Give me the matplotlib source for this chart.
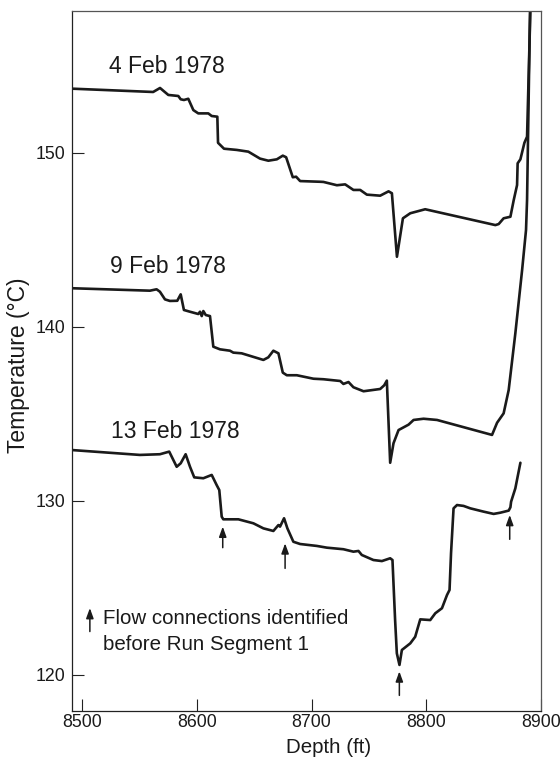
import numpy as np
import matplotlib
matplotlib.use('Agg')
import matplotlib.pyplot as plt

plt.rcParams['font.family'] = ['Liberation Sans', 'DejaVu Sans']

# temperature logs, depth (ft) vs temperature (degC)
d_feb4 = [8491.5, 8562, 8568, 8575.2, 8583.9, 8586, 8588.8, 8592.6, 8597, 8601.3,
          8610, 8613, 8617.9, 8618.5, 8623.7, 8634.8, 8644.9, 8655.1, 8662.3, 8669.7,
          8674.9, 8677.8, 8683.6, 8686.5, 8690, 8707.4, 8710.3, 8722, 8729.2, 8736.4,
          8742.3, 8748.1, 8759.7, 8767, 8769.9, 8774.3, 8779.5, 8785.9, 8798.9, 8860,
          8862.9, 8867.2, 8873.1, 8876, 8878.9, 8879.4, 8881.8, 8885.3, 8887.6, 8891]
t_feb4 = [153.68, 153.49, 153.72, 153.32, 153.26, 153.07, 153.03, 153.1, 152.45, 152.26,
          152.26, 152.11, 152.07, 150.57, 150.23, 150.16, 150.06, 149.66, 149.54, 149.62,
          149.83, 149.74, 148.59, 148.62, 148.37, 148.33, 148.32, 148.13, 148.18, 147.86,
          147.86, 147.59, 147.53, 147.78, 147.67, 144.02, 146.23, 146.52, 146.75, 145.84,
          145.9, 146.23, 146.32, 147.28, 148.14, 149.39, 149.62, 150.57, 150.92, 159.5]

d_feb9 = [8491.5, 8559.2, 8565, 8567.9, 8572.3, 8576.6, 8583, 8586, 8588.8, 8594.1,
          8601.3, 8602.8, 8604.3, 8605.7, 8607.8, 8611.5, 8614.4, 8620.2, 8628.9, 8631.8,
          8639.1, 8658, 8662.3, 8666.7, 8671.1, 8674.9, 8678.4, 8687.1, 8701.6, 8710.3,
          8724.9, 8727.7, 8732.1, 8736.4, 8745.2, 8759.7, 8763.2, 8765.5, 8768.4, 8771.3,
          8775.7, 8784.4, 8788.8, 8797.5, 8809.2, 8857.1, 8861.5, 8867.2, 8871.6, 8877.4,
          8883.3, 8886.7, 8887.6, 8890.5]
t_feb9 = [142.21, 142.07, 142.15, 142.01, 141.57, 141.48, 141.49, 141.86, 140.96, 140.86,
          140.73, 140.86, 140.61, 140.90, 140.67, 140.61, 138.85, 138.70, 138.62, 138.51,
          138.47, 138.09, 138.24, 138.62, 138.47, 137.36, 137.21, 137.21, 137.01, 136.98,
          136.88, 136.71, 136.82, 136.52, 136.29, 136.42, 136.63, 136.90, 132.18, 133.30,
          134.06, 134.37, 134.64, 134.71, 134.64, 133.78, 134.48, 135.02, 136.36, 139.62,
          143.26, 145.56, 147.28, 159.5]

d_feb13 = [8491.5, 8550.5, 8567.9, 8576, 8582.5, 8586, 8590.3, 8594.1, 8597.8, 8605.7,
           8613, 8617.3, 8619.6, 8621.7, 8623.1, 8636.2, 8649.3, 8658, 8666.7, 8671.1,
           8672.5, 8676, 8678.9, 8684.1, 8690, 8704.5, 8713.3, 8727.7, 8736.4, 8740.8,
           8743.7, 8753.8, 8761.2, 8768.4, 8770.4, 8772.7, 8774.2, 8776.5, 8778.6, 8785.9,
           8790.2, 8794.6, 8803.3, 8807.7, 8813.5, 8817.9, 8820.1, 8821.4, 8823.6, 8826.6,
           8832.3, 8838.2, 8849.8, 8858.5, 8864.3, 8871.6, 8873.1, 8873.7, 8877.4, 8879.4,
           8881.8]
t_feb13 = [132.91, 132.63, 132.67, 132.82, 131.95, 132.15, 132.67, 131.95, 131.34, 131.29,
           131.48, 130.90, 130.61, 129.08, 128.93, 128.93, 128.70, 128.41, 128.26, 128.60,
           128.51, 128.99, 128.41, 127.64, 127.51, 127.40, 127.30, 127.21, 127.07, 127.11,
           126.88, 126.59, 126.53, 126.69, 126.59, 123.14, 121.23, 120.56, 121.42, 121.80,
           122.18, 123.18, 123.14, 123.53, 123.82, 124.58, 124.87, 126.98, 129.56, 129.75,
           129.70, 129.56, 129.37, 129.24, 129.31, 129.43, 129.62, 129.94, 130.71, 131.38,
           132.18]

# flow connections (arrows under the 13 Feb log)
flow_depth = [8622.6, 8676.9, 8776.4, 8872.5]
flow_tail = [127.30, 126.11, 118.81, 127.78]
flow_tip = [128.51, 127.55, 120.19, 129.18]

run_labels = ['4 Feb 1978', '9 Feb 1978', '13 Feb 1978']
label_pos = [(8523.7, 154.6), (8524.3, 143.1), (8524.9, 133.6)]

fig = plt.figure(figsize=(5.6, 7.61), dpi=100)
ax = fig.add_axes([0.1291, 0.0661, 0.8375, 0.9198])

line_kw = dict(color='#1a1a1a', lw=1.9, solid_joinstyle='round', solid_capstyle='round')
for d, t in [(d_feb4, t_feb4), (d_feb9, t_feb9), (d_feb13, t_feb13)]:
    ax.plot(d, t, **line_kw)

for lab, (x, y) in zip(run_labels, label_pos):
    ax.text(x, y, lab, fontsize=16.5, va='baseline', ha='left', color='#1a1a1a')

arrow_kw = dict(arrowstyle='-|>,head_length=0.55,head_width=0.2', lw=1.1,
                color='#1a1a1a', mutation_scale=11, shrinkA=0, shrinkB=0)
for x, y0, y1 in zip(flow_depth, flow_tail, flow_tip):
    ax.annotate('', xy=(x, y1), xytext=(x, y0), arrowprops=arrow_kw)

# key
ax.annotate('', xy=(8506.9, 123.83), xytext=(8506.9, 122.48), arrowprops=arrow_kw)
ax.text(8518, 122.91, 'Flow connections identified', fontsize=14.8, va='baseline', color='#1a1a1a')
ax.text(8518, 121.42, 'before Run Segment 1', fontsize=14.8, va='baseline', color='#1a1a1a')

ax.set_xlim(8491.6, 8900)
ax.set_ylim(117.93, 158.16)
ax.set_xticks([8500, 8600, 8700, 8800, 8900])
ax.set_yticks([120, 130, 140, 150])

ax.tick_params(axis='both', direction='in', length=8.9, width=0.8, color='#222222',
               labelsize=12.8, labelcolor='#1a1a1a')
ax.tick_params(axis='x', pad=2.5)
ax.tick_params(axis='y', pad=5.0)

for side in ['left', 'bottom']:
    ax.spines[side].set_color('#222222')
    ax.spines[side].set_linewidth(0.9)
for side in ['top', 'right']:
    ax.spines[side].set_color('#555555')
    ax.spines[side].set_linewidth(0.9)

ax.set_xlabel('Depth (ft)', fontsize=14.8, color='#1a1a1a')
ax.set_ylabel('Temperature (°C)', fontsize=16.5, color='#1a1a1a')
ax.xaxis.set_label_coords(0.547, -0.039)
ax.yaxis.set_label_coords(-0.0906, 0.494)

fig.savefig('out.png', dpi=100)
